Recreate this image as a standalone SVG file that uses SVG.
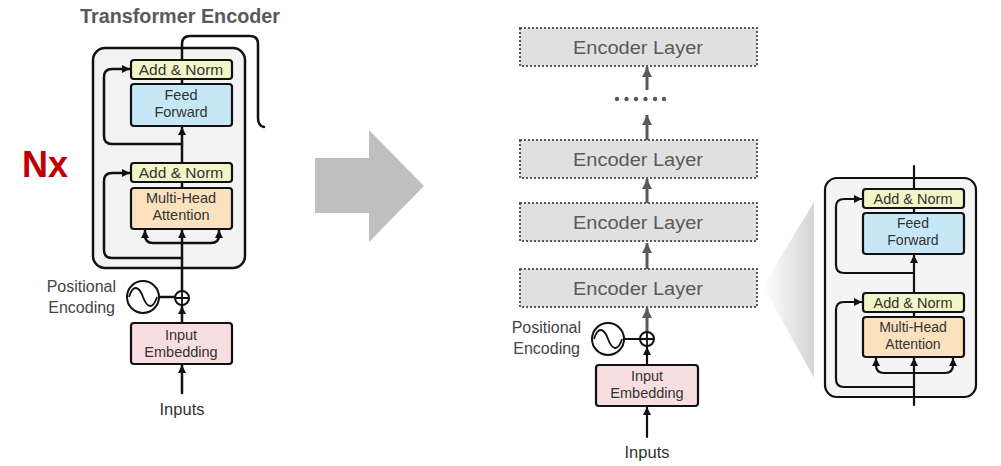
<svg xmlns="http://www.w3.org/2000/svg" width="1001" height="466" viewBox="0 0 1001 466">
<style>
.lbl{font-family:"Liberation Sans",Arial,sans-serif;fill:#333;text-anchor:middle}
.side{font-family:"Liberation Sans",Arial,sans-serif;fill:#444;text-anchor:end;font-size:16px}
.ln{fill:none;stroke:#111;stroke-width:2.5;stroke-linecap:round}
.ln2{fill:none;stroke:#111;stroke-width:2.2;stroke-linecap:round}
.gl{fill:none;stroke:#595959;stroke-width:3}
.box{stroke:#111;stroke-width:2.2}
.an{fill:#f1f5c8}
.ff{fill:#c6e7f6}
.mh{fill:#fbe1bd}
.ie{fill:#f8dee1}
.enc{fill:#e0e0e0;stroke:#595959;stroke-width:2;stroke-dasharray:2 2}
.encT{font-family:"Liberation Sans",Arial,sans-serif;font-size:18px;fill:#595959;text-anchor:middle}
</style>
<defs>
<marker id="ah" markerUnits="userSpaceOnUse" markerWidth="10" markerHeight="10" refX="8" refY="4" orient="auto">
<path d="M0,0 L8,4 L0,8 Z" fill="#111"/>
</marker>
<marker id="ahg" markerUnits="userSpaceOnUse" markerWidth="12" markerHeight="12" refX="10" refY="5" orient="auto">
<path d="M0,0 L10,5 L0,10 Z" fill="#595959"/>
</marker>
<linearGradient id="wg" x1="0" y1="0" x2="1" y2="0">
<stop offset="0" stop-color="#ffffff"/>
<stop offset="1" stop-color="#d4d4d4"/>
</linearGradient>
</defs>

<!-- Title and Nx -->
<text x="180" y="23" font-family="'Liberation Sans',Arial,sans-serif" font-weight="bold" font-size="20" fill="#595959" text-anchor="middle" textLength="200" lengthAdjust="spacingAndGlyphs">Transformer Encoder</text>
<text x="22" y="177" font-family="'Liberation Sans',Arial,sans-serif" font-weight="bold" font-size="36" fill="#c00000">Nx</text>

<!-- Left encoder -->
<g id="left-encoder">
<rect x="93" y="48" width="152" height="220" rx="12" fill="#f3f3f3" stroke="#111" stroke-width="2.5"/>
</g>
<g id="left-connectors">
<path class="ln" d="M182,60 V44 Q182,36 190,36 H250 Q258,36 258,44 V118 Q258,126 264,127"/>
<line class="ln" x1="182" y1="79" x2="182" y2="84"/>
<line class="ln" x1="182" y1="182" x2="182" y2="188"/>
<path class="ln" d="M182,163 V127" marker-end="url(#ah)"/>
<path class="ln" d="M182,144 H112 Q104,144 104,136 V77 Q104,69 112,69 H130" marker-end="url(#ah)"/>
<path class="ln" d="M182,258 H112 Q104,258 104,250 V181 Q104,173 112,173 H130" marker-end="url(#ah)"/>
<path class="ln" d="M182,291 V230" marker-end="url(#ah)"/>
<path class="ln" d="M182,243 H153 Q145,243 145,235 V230" marker-end="url(#ah)"/>
<path class="ln" d="M182,243 H211 Q219,243 219,235 V230" marker-end="url(#ah)"/>
<path class="ln" d="M182,323 V306" marker-end="url(#ah)"/>
<path class="ln" d="M182,393 V365" marker-end="url(#ah)"/>
<line class="ln" x1="160" y1="297" x2="175" y2="297"/>
</g>
<g id="left-addnorm2"><rect class="box an" x="131" y="60" width="101" height="19" rx="3"/><text class="lbl" x="181" y="75" font-size="15.5">Add &amp; Norm</text></g>
<g id="left-ff"><rect class="box ff" x="131" y="84" width="101" height="42" rx="3"/><text class="lbl" x="181" y="100" font-size="14.5">Feed</text><text class="lbl" x="181" y="117" font-size="14.5">Forward</text></g>
<g id="left-addnorm1"><rect class="box an" x="131" y="163" width="101" height="19" rx="3"/><text class="lbl" x="181" y="178" font-size="15.5">Add &amp; Norm</text></g>
<g id="left-mha"><rect class="box mh" x="131" y="188" width="101" height="41" rx="3"/><text class="lbl" x="181" y="203" font-size="14.5">Multi-Head</text><text class="lbl" x="181" y="220" font-size="14.5">Attention</text></g>
<g id="left-plus"><circle cx="182" cy="298" r="7" fill="#fff" stroke="#111" stroke-width="2"/><path d="M175,298 H189 M182,291 V305" stroke="#111" stroke-width="1.8"/></g>
<g id="left-pe"><circle cx="143" cy="297" r="16" fill="#fff" stroke="#111" stroke-width="2"/><path d="M129,297 C133,284 139,286 143,297 C147,308 153,310 157,297" fill="none" stroke="#111" stroke-width="1.8"/>
<text class="side" x="116" y="292">Positional</text><text class="side" x="115" y="313">Encoding</text></g>
<g id="left-embed"><rect class="box ie" x="131" y="323" width="101" height="41" rx="3" stroke-width="2.5"/><text class="lbl" x="181" y="340" font-size="14.5">Input</text><text class="lbl" x="181" y="357" font-size="14.5">Embedding</text></g>
<g id="left-inputs"><text class="lbl" x="182" y="415" font-size="16.5">Inputs</text></g>

<!-- Big arrow -->
<g id="big-arrow"><polygon points="315,158 369,158 369,130 424,186 369,242 369,213 315,213" fill="#bfbfbf"/></g>

<!-- Right stack -->
<g id="stack-connectors">
<path class="gl" d="M647,90 V67" marker-end="url(#ahg)"/>
<path class="gl" d="M647,140 V115" marker-end="url(#ahg)"/>
<path class="gl" d="M647,203 V179" marker-end="url(#ahg)"/>
<path class="gl" d="M647,269 V243" marker-end="url(#ahg)"/>
<path class="gl" d="M647,332 V308" marker-end="url(#ahg)"/>
<path class="ln2" d="M647,365 V347" marker-end="url(#ah)"/>
<path class="ln2" d="M647,437 V407" marker-end="url(#ah)"/>
<line class="ln2" x1="625" y1="339" x2="640" y2="339"/>
</g>
<g id="dots" fill="#595959"><circle cx="617" cy="99" r="2.2"/><circle cx="626.5" cy="99" r="2.2"/><circle cx="636" cy="99" r="2.2"/><circle cx="645.5" cy="99" r="2.2"/><circle cx="655" cy="99" r="2.2"/><circle cx="664" cy="99" r="2.2"/></g>
<g id="enc-layer-top"><rect class="enc" x="520" y="28" width="237" height="38"/><text class="encT" x="638" y="54" textLength="130" lengthAdjust="spacingAndGlyphs">Encoder Layer</text></g>
<g id="enc-layer-3"><rect class="enc" x="520" y="140" width="237" height="38"/><text class="encT" x="638" y="166" textLength="130" lengthAdjust="spacingAndGlyphs">Encoder Layer</text></g>
<g id="enc-layer-2"><rect class="enc" x="520" y="203" width="237" height="38"/><text class="encT" x="638" y="229" textLength="130" lengthAdjust="spacingAndGlyphs">Encoder Layer</text></g>
<g id="enc-layer-1"><rect class="enc" x="520" y="269" width="237" height="38"/><text class="encT" x="638" y="295" textLength="130" lengthAdjust="spacingAndGlyphs">Encoder Layer</text></g>
<g id="right-plus"><circle cx="647" cy="339" r="7" fill="#fff" stroke="#111" stroke-width="2"/><path d="M640,339 H654 M647,332 V346" stroke="#111" stroke-width="1.8"/></g>
<g id="right-pe"><circle cx="608" cy="339" r="16" fill="#fff" stroke="#111" stroke-width="2"/><path d="M594,339 C598,326 604,328 608,339 C612,350 618,352 622,339" fill="none" stroke="#111" stroke-width="1.8"/>
<text class="side" x="581" y="333">Positional</text><text class="side" x="580" y="354">Encoding</text></g>
<g id="right-embed"><rect class="box ie" x="596" y="365" width="102" height="41" rx="3" stroke-width="2.5"/><text class="lbl" x="647" y="381" font-size="14.5">Input</text><text class="lbl" x="647" y="398" font-size="14.5">Embedding</text></g>
<g id="right-inputs"><text class="lbl" x="647" y="458" font-size="16.5">Inputs</text></g>

<!-- Wedge -->
<g id="wedge"><polygon points="763,286 814,202 814,378" fill="url(#wg)"/></g>

<!-- Zoomed encoder -->
<g id="zoom-encoder"><rect x="825" y="178" width="151" height="219" rx="12" fill="#f4f4f4" stroke="#111" stroke-width="2.2"/></g>
<g id="zoom-connectors">
<line class="ln2" x1="914" y1="166" x2="914" y2="189"/>
<line class="ln2" x1="914" y1="208" x2="914" y2="213"/>
<line class="ln2" x1="914" y1="312" x2="914" y2="317"/>
<path class="ln2" d="M914,293 V255" marker-end="url(#ah)"/>
<path class="ln2" d="M914,273 H844 Q836,273 836,265 V207 Q836,199 844,199 H862" marker-end="url(#ah)"/>
<path class="ln2" d="M914,387 H844 Q836,387 836,379 V310 Q836,302 844,302 H862" marker-end="url(#ah)"/>
<path class="ln2" d="M914,405 V358" marker-end="url(#ah)"/>
<path class="ln2" d="M914,373 H884 Q876,373 876,365 V358" marker-end="url(#ah)"/>
<path class="ln2" d="M914,373 H945 Q953,373 953,365 V358" marker-end="url(#ah)"/>
</g>
<g id="zoom-addnorm2"><rect class="box an" x="863" y="189" width="101" height="19" rx="3"/><text class="lbl" x="913" y="204" font-size="14.5">Add &amp; Norm</text></g>
<g id="zoom-ff"><rect class="box ff" x="863" y="213" width="101" height="41" rx="3"/><text class="lbl" x="913" y="228" font-size="14">Feed</text><text class="lbl" x="913" y="245" font-size="14">Forward</text></g>
<g id="zoom-addnorm1"><rect class="box an" x="863" y="293" width="101" height="19" rx="3"/><text class="lbl" x="913" y="308" font-size="14.5">Add &amp; Norm</text></g>
<g id="zoom-mha"><rect class="box mh" x="863" y="317" width="101" height="40" rx="3"/><text class="lbl" x="913" y="332" font-size="14">Multi-Head</text><text class="lbl" x="913" y="349" font-size="14">Attention</text></g>
</svg>
